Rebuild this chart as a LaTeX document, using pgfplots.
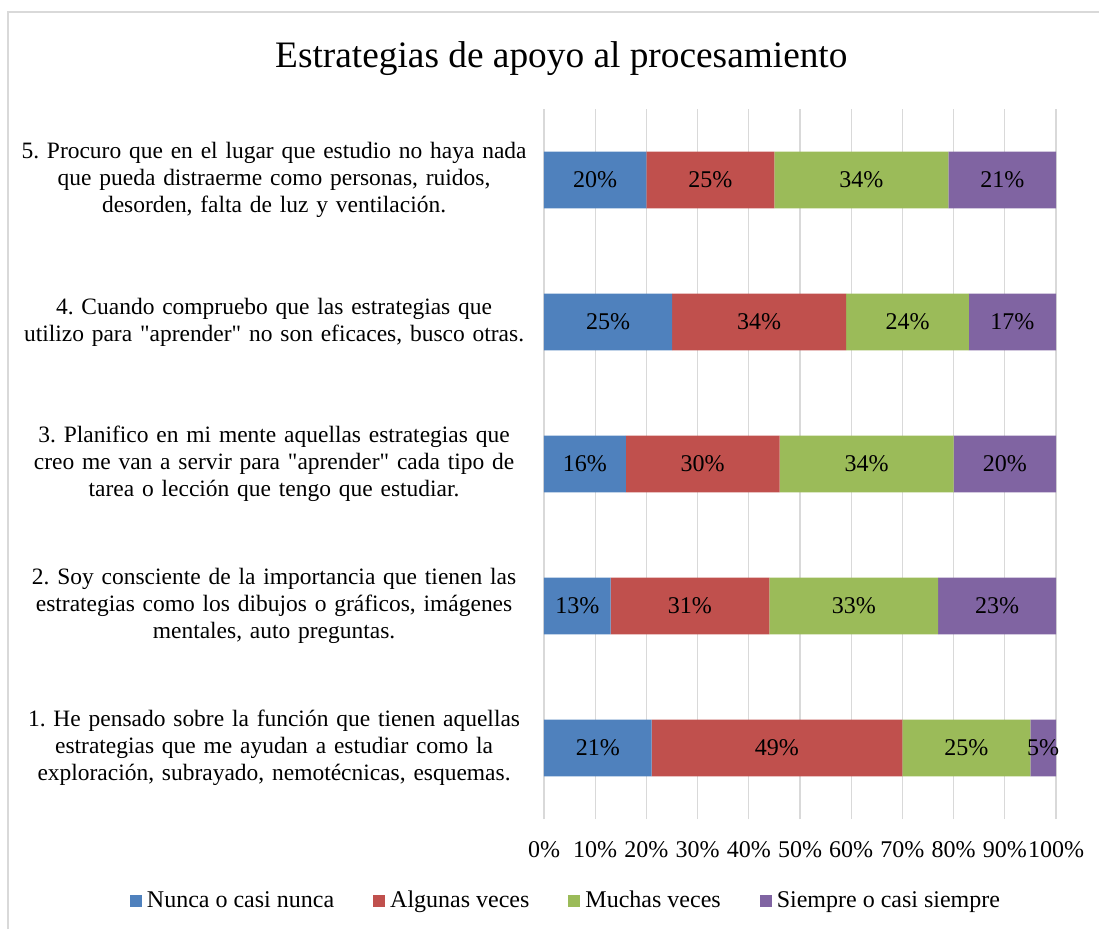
\documentclass[border=0pt]{standalone}
\usepackage{fontspec}
\setmainfont{Liberation Serif}
\usepackage{pgfplots}
\pgfplotsset{compat=1.18}
\usepackage{pgfplotstable}
\definecolor{cblue}{RGB}{79,129,189}
\definecolor{cred}{RGB}{192,80,77}
\definecolor{cgreen}{RGB}{155,187,89}
\definecolor{cpurple}{RGB}{128,100,162}
\definecolor{gridgray}{RGB}{217,217,217}

\pgfplotstableread{
y nunca algunas muchas siempre
1 21 49 25 5
2 13 31 33 23
3 16 30 34 20
4 25 34 24 17
5 20 25 34 21
}\datatable

\pgfplotstableread{
x y v
10 5 20
32.5 5 25
62 5 34
89.5 5 21
12.5 4 25
42 4 34
71 4 24
91.5 4 17
8 3 16
31 3 30
63 3 34
90 3 20
6.5 2 13
28.5 2 31
60.5 2 33
88.5 2 23
10.5 1 21
45.5 1 49
82.5 1 25
97.5 1 5
}\labeltable

\begin{document}
\frenchspacing
\begin{tikzpicture}
\path[use as bounding box] (0,0) rectangle (824.25pt,-696.75pt);
\draw[gridgray, line width=1.2pt] (6pt,-696.75pt) -- (6pt,-9pt) -- (824.25pt,-9pt);
\node[anchor=base, font=\fontsize{28}{32}\selectfont, inner sep=0pt] at (421pt,-50.25pt) {Estrategias de apoyo al procesamiento};
\begin{axis}[
  at={(408pt,-614.25pt)}, anchor=south west,
  scale only axis, width=384pt, height=532.5pt,
  xbar stacked, bar width=0.4,
  legend image code/.code={\fill[#1] (0pt,0pt) rectangle (9pt,9pt);},
  xmin=0, xmax=100, ymin=0.5, ymax=5.5,
  axis x line=bottom, axis y line=left,
  axis line style={draw=none},
  xtick={0,10,20,30,40,50,60,70,80,90,100},
  xticklabels={0\%,10\%,20\%,30\%,40\%,50\%,60\%,70\%,80\%,90\%,100\%},
  xticklabel style={anchor=base, yshift=-29pt, inner sep=0pt, font=\fontsize{18}{20}\selectfont},
  ytick={1,2,3,4,5},
  yticklabels={
    {1. He pensado sobre la función que tienen aquellas\\estrategias que me ayudan a estudiar como la\\exploración, subrayado, nemotécnicas, esquemas.},
    {2. Soy consciente de la importancia que tienen las\\estrategias como los dibujos o gráficos, imágenes\\mentales, auto preguntas.},
    {3. Planifico en mi mente aquellas estrategias que\\creo me van a servir para \textquotedbl aprender\textquotedbl{} cada tipo de\\tarea o lección que tengo que estudiar.},
    {4. Cuando compruebo que las estrategias que\\utilizo para \textquotedbl aprender\textquotedbl{} no son eficaces, busco otras.},
    {5. Procuro que en el lugar que estudio no haya nada\\que pueda distraerme como personas, ruidos,\\desorden, falta de luz y ventilación.}
  },
  yticklabel style={align=center, text width=400pt, inner sep=0pt, xshift=-2.25pt, font=\fontsize{17.6}{20.1}\selectfont},
  major tick length=0pt,
  tick style={draw=none},
  xmajorgrids, ymajorgrids=false,
  major grid style={draw=gridgray, line width=1pt},
  legend columns=4,
  legend style={at={(0.041,-0.114)}, anchor=center, draw=none, fill=none,
    font=\fontsize{18}{20}\selectfont,
    nodes={inner sep=0pt, anchor=base},
    /tikz/every odd column/.append style={column sep=3.75pt},
    /tikz/every even column/.append style={column sep=29.25pt}},
]
\addplot[fill=cblue, draw=none] table[x=nunca, y=y] {\datatable};
\addplot[fill=cred, draw=none] table[x=algunas, y=y] {\datatable};
\addplot[fill=cgreen, draw=none] table[x=muchas, y=y] {\datatable};
\addplot[fill=cpurple, draw=none] table[x=siempre, y=y] {\datatable};
\legend{Nunca o casi nunca, Algunas veces, Muchas veces, Siempre o casi siempre}
\end{axis}
\begin{axis}[
  at={(408pt,-614.25pt)}, anchor=south west,
  scale only axis, width=384pt, height=532.5pt,
  xmin=0, xmax=100, ymin=0.5, ymax=5.5,
  hide axis, clip=false,
]
\addplot[draw=none, point meta=explicit,
  nodes near coords={\pgfmathprintnumber[assume math mode=true]{\pgfplotspointmeta}\%},
  every node near coord/.append style={anchor=center, inner sep=0pt, text=black, font=\fontsize{18}{20}\selectfont}]
  table[x=x, y=y, meta=v] {\labeltable};
\end{axis}
\end{tikzpicture}
\end{document}
